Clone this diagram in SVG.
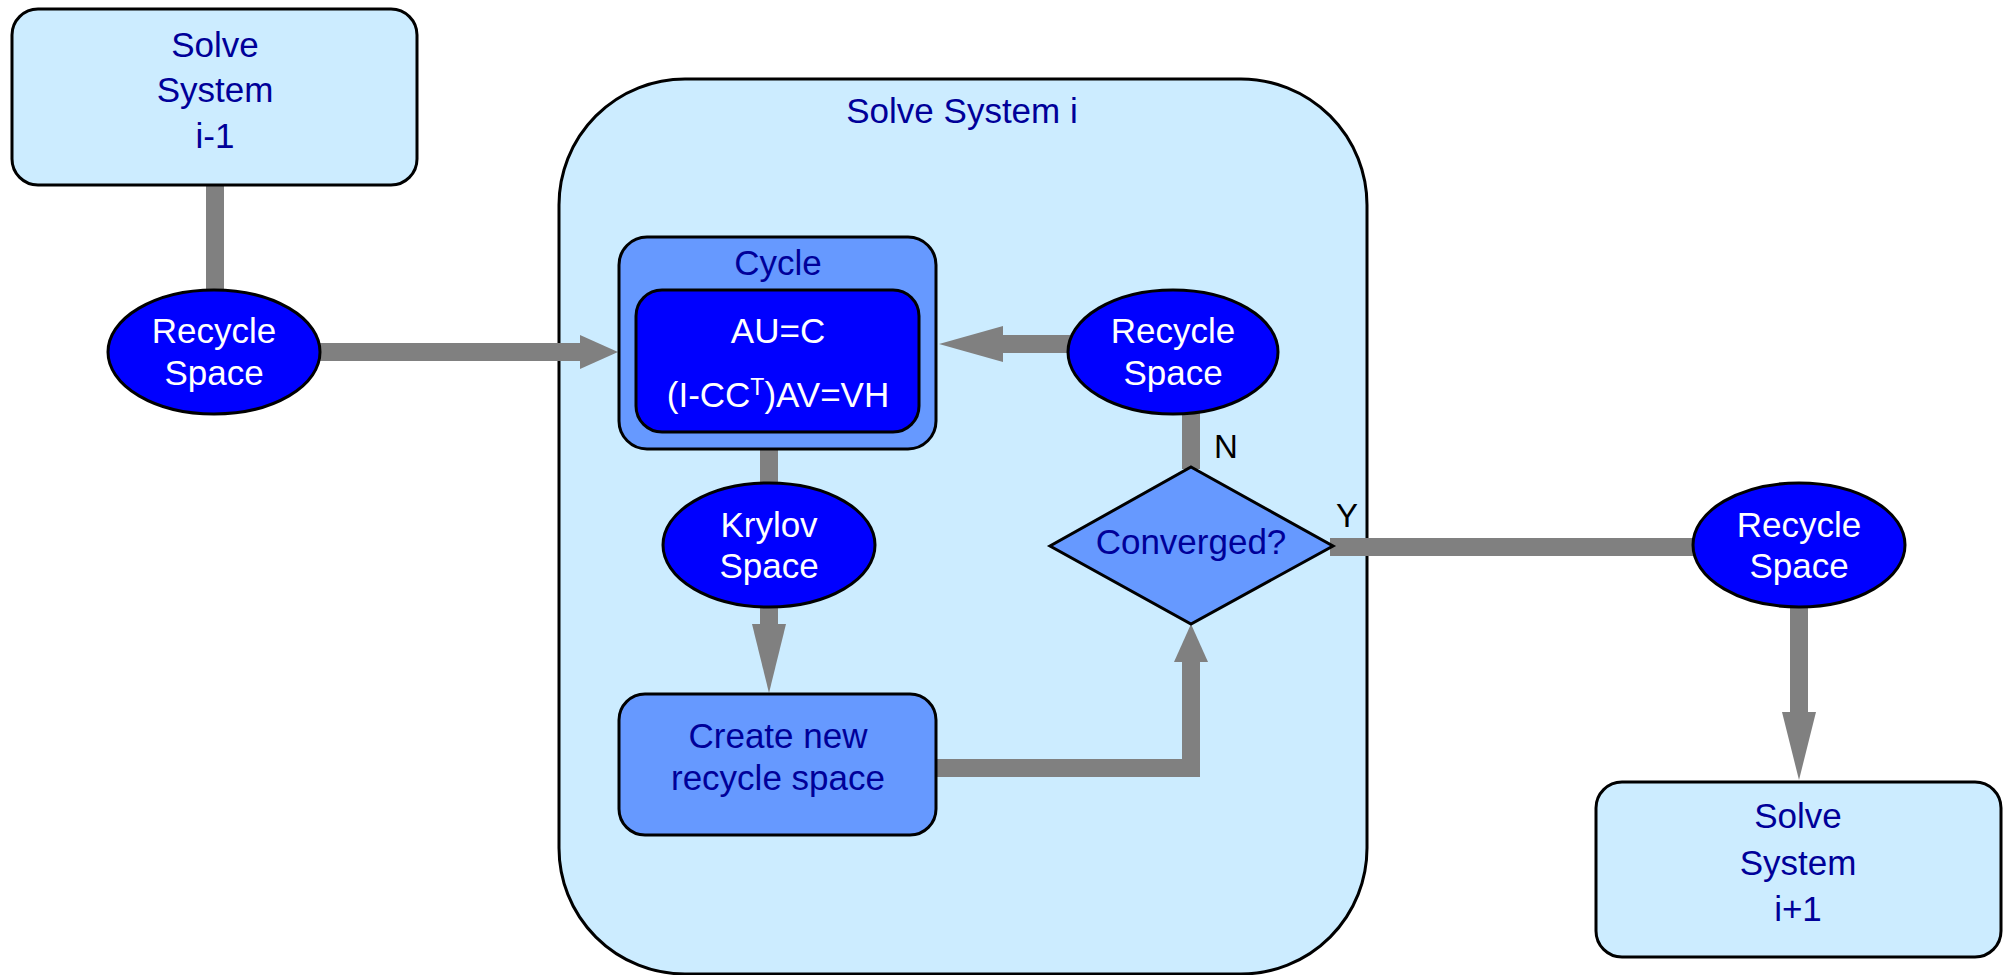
<svg xmlns="http://www.w3.org/2000/svg" width="2007" height="975" viewBox="0 0 2007 975">
<style>
text{font-family:"Liberation Sans",Arial,sans-serif;font-size:35px;text-anchor:middle}
.dk{fill:#000099}
.wh{fill:#ffffff}
.lbl{fill:#000000;text-anchor:start;font-size:33px}
.light{fill:#CCECFF;stroke:#000;stroke-width:3}
.mid{fill:#6699FF;stroke:#000;stroke-width:3}
.blue{fill:#0000FF;stroke:#000;stroke-width:3}
.bar{fill:none;stroke:#808080;stroke-width:18}
.head{fill:#808080}
</style>
<rect width="2007" height="975" fill="#ffffff"/>
<g id="container">
<rect class="light" x="559" y="79" width="808" height="895" rx="126" ry="126"/>
<text class="dk" x="962" y="123">Solve System i</text>
</g>
<g id="connectors">
<path class="bar" d="M215,185 V292"/>
<path class="bar" d="M318,352 H582"/>
<polygon class="head" points="580,335 618,352 580,369"/>
<path class="bar" d="M1070,344 H1000"/>
<polygon class="head" points="1003,326 939,344 1003,362"/>
<path class="bar" d="M769,449 V485"/>
<path class="bar" d="M769,605 V626"/>
<polygon class="head" points="752,624 786,624 769,693"/>
<path class="bar" d="M934,768 H1191 V660"/>
<polygon class="head" points="1174,662 1208,662 1191,624"/>
<path class="bar" d="M1191,412 V469"/>
<path class="bar" d="M1330,547 H1695"/>
<path class="bar" d="M1799,605 V714"/>
<polygon class="head" points="1782,712 1816,712 1799,780"/>
</g>
<g id="solve-prev">
<rect class="light" x="12" y="9" width="405" height="176" rx="26" ry="26"/>
<text class="dk" x="215" y="57">Solve</text>
<text class="dk" x="215" y="102">System</text>
<text class="dk" x="215" y="148">i-1</text>
</g>
<g id="recycle-in">
<ellipse class="blue" cx="214" cy="352" rx="106" ry="62"/>
<text class="wh" x="214" y="343">Recycle</text>
<text class="wh" x="214" y="385">Space</text>
</g>
<g id="cycle">
<rect class="mid" x="619" y="237" width="317" height="212" rx="28" ry="28"/>
<text class="dk" x="778" y="275">Cycle</text>
</g>
<g id="equations">
<rect class="blue" x="636" y="290" width="283" height="142" rx="26" ry="26"/>
<text class="wh" x="778" y="343">AU=C</text>
<text class="wh" x="778" y="407">(I-CC<tspan font-size="23" dy="-12">T</tspan><tspan dy="12">)AV=VH</tspan></text>
</g>
<g id="recycle-loop">
<ellipse class="blue" cx="1173" cy="352" rx="105" ry="62"/>
<text class="wh" x="1173" y="343">Recycle</text>
<text class="wh" x="1173" y="385">Space</text>
</g>
<g id="krylov">
<ellipse class="blue" cx="769" cy="545" rx="106" ry="62"/>
<text class="wh" x="769" y="537">Krylov</text>
<text class="wh" x="769" y="578">Space</text>
</g>
<g id="create">
<rect class="mid" x="619" y="694" width="317" height="141" rx="26" ry="26"/>
<text class="dk" x="778" y="748">Create new</text>
<text class="dk" x="778" y="790">recycle space</text>
</g>
<g id="converged">
<polygon class="mid" points="1191,467 1333,546 1191,624 1050,546"/>
<text class="dk" x="1191" y="554">Converged?</text>
</g>
<g id="labels">
<text class="lbl" x="1214" y="458">N</text>
<text class="lbl" x="1336" y="527">Y</text>
</g>
<g id="recycle-out">
<ellipse class="blue" cx="1799" cy="545" rx="106" ry="62"/>
<text class="wh" x="1799" y="537">Recycle</text>
<text class="wh" x="1799" y="578">Space</text>
</g>
<g id="solve-next">
<rect class="light" x="1596" y="782" width="405" height="175" rx="26" ry="26"/>
<text class="dk" x="1798" y="828">Solve</text>
<text class="dk" x="1798" y="875">System</text>
<text class="dk" x="1798" y="921">i+1</text>
</g>
</svg>
